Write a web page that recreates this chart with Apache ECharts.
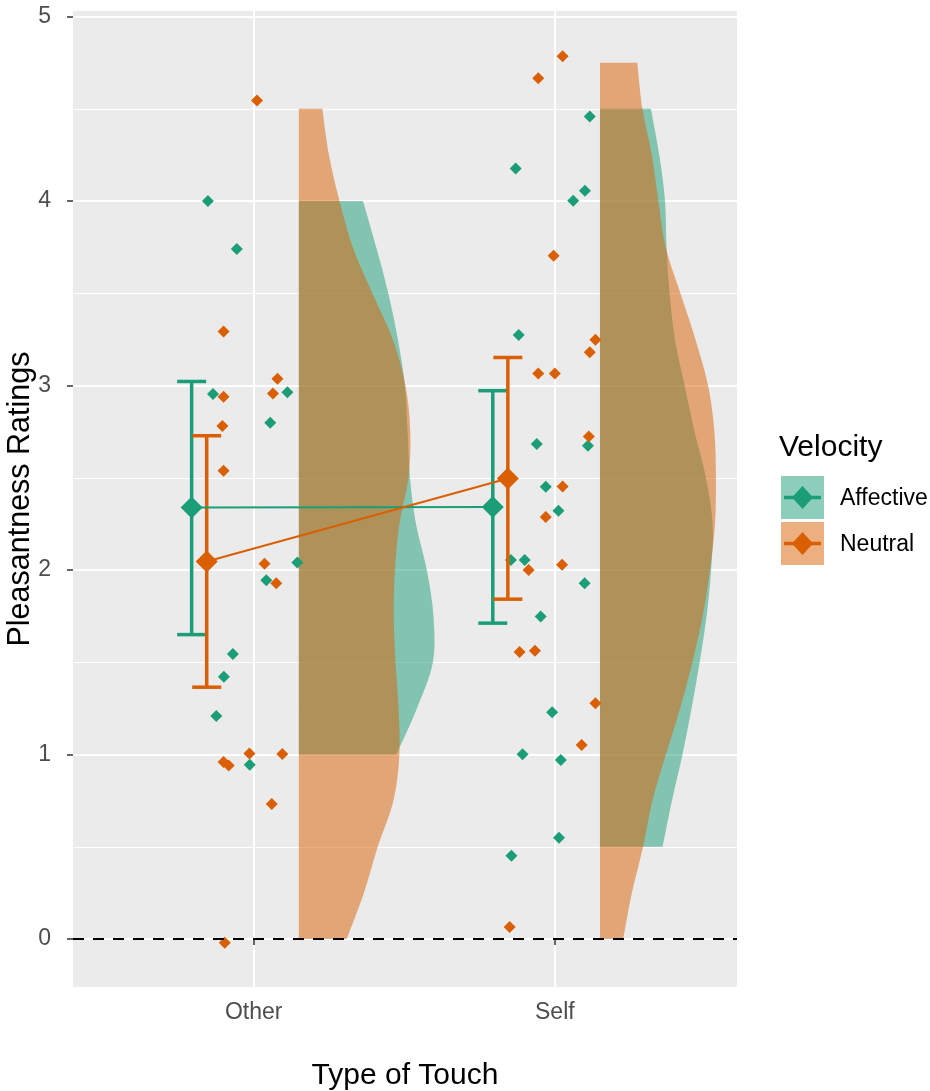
<!DOCTYPE html>
<html>
<head>
<meta charset="utf-8">
<script src="https://cdn.jsdelivr.net/npm/echarts@6/dist/echarts.min.js"></script>
<style>
  html, body { margin: 0; padding: 0; background: #fff; }
  #chart { width: 930px; height: 1091px; }
</style>
</head>
<body>
<div id="chart"></div>
<script>
// categories and groups
const categories = ["Other", "Self"];
const velocities = ["Affective", "Neutral"];
const yTicks = [0, 1, 2, 3, 4, 5];
const yMinor = [0.5, 1.5, 2.5, 3.5, 4.5];

// jittered ratings (x position, rating)
const affOtherX = [0.848, 0.944, 0.865, 1.112, 1.055, 1.145, 1.042, 0.931, 0.901, 0.876, 0.987];
const affOtherY = [4.0, 3.74, 2.954, 2.963, 2.798, 2.041, 1.945, 1.545, 1.421, 1.209, 0.944];
const neuOtherX = [1.011, 0.9, 0.9, 1.079, 1.064, 0.896, 0.9, 1.036, 1.075, 0.986, 1.095, 0.9, 0.917, 1.06, 0.904];
const neuOtherY = [4.545, 3.293, 2.939, 3.037, 2.957, 2.78, 2.538, 2.034, 1.929, 1.005, 1.003, 0.96, 0.94, 0.732, -0.02];
const affSelfX = [2.116, 1.87, 2.1, 2.061, 1.88, 1.94, 2.11, 1.97, 2.012, 1.854, 1.9, 2.099, 1.953, 1.991, 1.893, 2.02, 2.014, 1.856];
const affSelfY = [4.458, 4.177, 4.056, 4.002, 3.274, 2.683, 2.673, 2.451, 2.321, 2.055, 2.055, 1.929, 1.748, 1.229, 1.001, 0.971, 0.549, 0.451];
const neuSelfX = [2.026, 1.945, 1.996, 2.135, 2.116, 1.945, 2.0, 2.113, 2.026, 1.97, 1.913, 2.024, 1.883, 1.934, 2.135, 2.089, 1.85];
const neuSelfY = [4.785, 4.665, 3.704, 3.248, 3.18, 3.065, 3.065, 2.724, 2.453, 2.288, 2.0, 2.028, 1.556, 1.563, 1.278, 1.052, 0.065];

// means and error bars (Other, Self)
const affMean = [2.339, 2.341];
const affLow = [1.65, 1.712];
const affHigh = [3.022, 2.972];
const neuMean = [2.046, 2.496];
const neuLow = [1.365, 1.842];
const neuHigh = [2.728, 3.152];

// half violin density widths (x units) at rating levels
const affOtherDensY = [1.0, 1.25, 1.5, 1.75, 2.0, 2.25, 2.5, 2.75, 3.0, 3.25, 3.5, 3.75, 4.0];
const affOtherDensW = [0.324, 0.392, 0.445, 0.447, 0.425, 0.389, 0.369, 0.361, 0.352, 0.329, 0.297, 0.257, 0.213];
const neuOtherDensY = [0, 0.25, 0.5, 0.75, 1.0, 1.25, 1.5, 1.75, 2.0, 2.25, 2.5, 2.75, 3.0, 3.25, 3.5, 3.75, 4.0, 4.25, 4.5];
const neuOtherDensW = [0.159, 0.216, 0.262, 0.314, 0.334, 0.331, 0.321, 0.315, 0.319, 0.334, 0.364, 0.37, 0.354, 0.312, 0.244, 0.179, 0.135, 0.1, 0.078];
const affSelfDensY = [0.5, 0.75, 1.0, 1.25, 1.5, 1.75, 2.0, 2.25, 2.5, 2.75, 3.0, 3.25, 3.5, 3.75, 4.0, 4.25, 4.5];
const affSelfDensW = [0.208, 0.239, 0.274, 0.304, 0.331, 0.354, 0.369, 0.374, 0.352, 0.314, 0.281, 0.249, 0.231, 0.221, 0.216, 0.197, 0.169];
const neuSelfDensY = [0, 0.25, 0.5, 0.75, 1.0, 1.25, 1.5, 1.75, 2.0, 2.25, 2.5, 2.75, 3.0, 3.25, 3.5, 3.75, 4.0, 4.25, 4.5, 4.75];
const neuSelfDensW = [0.077, 0.106, 0.143, 0.174, 0.219, 0.266, 0.307, 0.341, 0.365, 0.382, 0.385, 0.38, 0.359, 0.317, 0.267, 0.218, 0.194, 0.172, 0.141, 0.124];

const GREEN = "#1B9E77";
const ORANGE = "#D95F02";
const GREEN_FILL = "rgba(27,158,119,0.5)";
const ORANGE_FILL = "rgba(217,95,2,0.5)";
const FONT = "Liberation Sans, Arial, sans-serif";

const chart = echarts.init(document.getElementById("chart"));

const zip = (xs, ys) => xs.map((x, i) => [x, ys[i]]);

// flat violin to the right of the category
const violinSeries = (cat, ys, ws, fill, z) => ({
  type: "custom",
  silent: true,
  z: z,
  data: [[cat, ys[0]]],
  renderItem: (params, api) => {
    const base = cat + 0.15;
    const pts = ys.map((y, i) => api.coord([base + ws[i], y]));
    const b0 = api.coord([base, ys[0]]);
    const b1 = api.coord([base, ys[ys.length - 1]]);
    let d = "M" + b0[0] + " " + b0[1] + " L" + pts[0][0] + " " + pts[0][1];
    for (let i = 0; i < pts.length - 1; i++) {
      const p0 = pts[Math.max(i - 1, 0)];
      const p1 = pts[i];
      const p2 = pts[i + 1];
      const p3 = pts[Math.min(i + 2, pts.length - 1)];
      const c1 = [p1[0] + (p2[0] - p0[0]) / 6, p1[1] + (p2[1] - p0[1]) / 6];
      const c2 = [p2[0] - (p3[0] - p1[0]) / 6, p2[1] - (p3[1] - p1[1]) / 6];
      d += " C" + c1[0] + " " + c1[1] + " " + c2[0] + " " + c2[1] + " " + p2[0] + " " + p2[1];
    }
    d += " L" + b1[0] + " " + b1[1] + " Z";
    return { type: "path", shape: { pathData: d }, style: { fill: fill, stroke: null } };
  },
});

// error bars
const errorSeries = (xs, lo, hi, color) => ({
  type: "custom",
  silent: true,
  z: 5,
  data: xs.map((x, i) => [x, lo[i], hi[i]]),
  renderItem: (params, api) => {
    const a = api.coord([api.value(0), api.value(1)]);
    const b = api.coord([api.value(0), api.value(2)]);
    const hw = 14.5;
    const style = { stroke: color, lineWidth: 3.5 };
    return {
      type: "group",
      children: [
        { type: "line", shape: { x1: a[0], y1: a[1], x2: b[0], y2: b[1] }, style },
        { type: "line", shape: { x1: a[0] - hw, y1: a[1], x2: a[0] + hw, y2: a[1] }, style },
        { type: "line", shape: { x1: b[0] - hw, y1: b[1], x2: b[0] + hw, y2: b[1] }, style },
      ],
    };
  },
});

const catPos = categories.map((c, i) => i + 1);
const affPos = catPos.map((p) => p - 0.206);
const neuPos = catPos.map((p) => p - 0.156);

const options = {
  animation: false,
  textStyle: { fontFamily: FONT },
  grid: {
    left: 73, right: 193, top: 11, bottom: 104,
    containLabel: false, outerBoundsMode: "none",
    show: true, backgroundColor: "#EBEBEB", borderWidth: 0,
  },
  xAxis: {
    type: "value",
    min: 0.4,
    max: 2.605,
    name: "Type of Touch",
    nameLocation: "middle",
    nameGap: 74,
    nameMoveOverlap: false,
    nameTextStyle: { color: "#000", fontSize: 30, fontFamily: FONT },
    axisLine: { show: false },
    axisTick: { show: true, customValues: catPos, length: 6, lineStyle: { color: "#333", width: 1.5 } },
    axisLabel: {
      customValues: catPos,
      formatter: (v) => categories[Math.round(v) - 1] || "",
      color: "#4D4D4D", fontSize: 23, margin: 14, fontFamily: FONT,
    },
    splitLine: { show: true, lineStyle: { color: "#fff", width: 2 } },
  },
  yAxis: [
    {
      type: "value",
      min: -0.26,
      max: 5.03,
      name: "Pleasantness Ratings",
      nameLocation: "middle",
      nameGap: 37,
      nameMoveOverlap: false,
      nameTextStyle: { color: "#000", fontSize: 30.5, fontFamily: FONT },
      axisLine: { show: false },
      axisTick: { show: true, customValues: yTicks, length: 6, lineStyle: { color: "#333", width: 1.5 } },
      axisLabel: { customValues: yTicks, color: "#4D4D4D", fontSize: 23, margin: 22, fontFamily: FONT },
      splitLine: { show: true, lineStyle: { color: "#fff", width: 2 } },
    },
    {
      type: "value",
      min: -0.26,
      max: 5.03,
      position: "left",
      axisLine: { show: false },
      axisTick: { show: false, customValues: yMinor },
      axisLabel: { show: false, customValues: yMinor },
      splitLine: { show: true, lineStyle: { color: "#fff", width: 1 } },
    },
  ],
  series: [
    violinSeries(1, affOtherDensY, affOtherDensW, GREEN_FILL, 1),
    violinSeries(2, affSelfDensY, affSelfDensW, GREEN_FILL, 1),
    violinSeries(1, neuOtherDensY, neuOtherDensW, ORANGE_FILL, 2),
    violinSeries(2, neuSelfDensY, neuSelfDensW, ORANGE_FILL, 2),
    {
      name: "Affective",
      type: "scatter",
      z: 3,
      symbol: "diamond",
      symbolSize: 12,
      itemStyle: { color: GREEN, opacity: 1 },
      data: zip(affOtherX, affOtherY).concat(zip(affSelfX, affSelfY)),
      markLine: {
        silent: true,
        symbol: "none",
        label: { show: false },
        lineStyle: { color: "#000", type: [11, 9], width: 2 },
        data: [{ yAxis: 0 }],
      },
    },
    {
      name: "Neutral",
      type: "scatter",
      z: 3,
      symbol: "diamond",
      symbolSize: 12,
      itemStyle: { color: ORANGE, opacity: 1 },
      data: zip(neuOtherX, neuOtherY).concat(zip(neuSelfX, neuSelfY)),
    },
    errorSeries(affPos, affLow, affHigh, GREEN),
    errorSeries(neuPos, neuLow, neuHigh, ORANGE),
    {
      type: "line",
      z: 6,
      symbol: "diamond",
      symbolSize: 22,
      showAllSymbol: true,
      lineStyle: { color: GREEN, width: 2 },
      itemStyle: { color: GREEN },
      data: zip(affPos, affMean),
    },
    {
      type: "line",
      z: 6,
      symbol: "diamond",
      symbolSize: 22,
      showAllSymbol: true,
      lineStyle: { color: ORANGE, width: 2 },
      itemStyle: { color: ORANGE },
      data: zip(neuPos, neuMean),
    },
  ],
  graphic: [
    { type: "text", x: 779, y: 448, style: { text: "Velocity", fontSize: 30, fontFamily: FONT, fill: "#000", verticalAlign: "middle" } },
  ].concat(
    velocities.flatMap((name, i) => {
      const top = 476 + i * 46;
      const col = i === 0 ? GREEN : ORANGE;
      const fill = i === 0 ? GREEN_FILL : ORANGE_FILL;
      return [
        { type: "rect", shape: { x: 781, y: top, width: 43, height: 43 }, style: { fill: fill } },
        { type: "line", shape: { x1: 784, y1: top + 21.5, x2: 821, y2: top + 21.5 }, style: { stroke: col, lineWidth: 3.5 } },
        {
          type: "polygon",
          shape: { points: [[802.5, top + 10], [813, top + 21.5], [802.5, top + 33], [792, top + 21.5]] },
          style: { fill: col },
        },
        { type: "text", x: 840, y: top + 22.5, style: { text: name, fontSize: 23, fontFamily: FONT, fill: "#000", verticalAlign: "middle" } },
      ];
    })
  ),
};

chart.setOption(options);
</script>
</body>
</html>
